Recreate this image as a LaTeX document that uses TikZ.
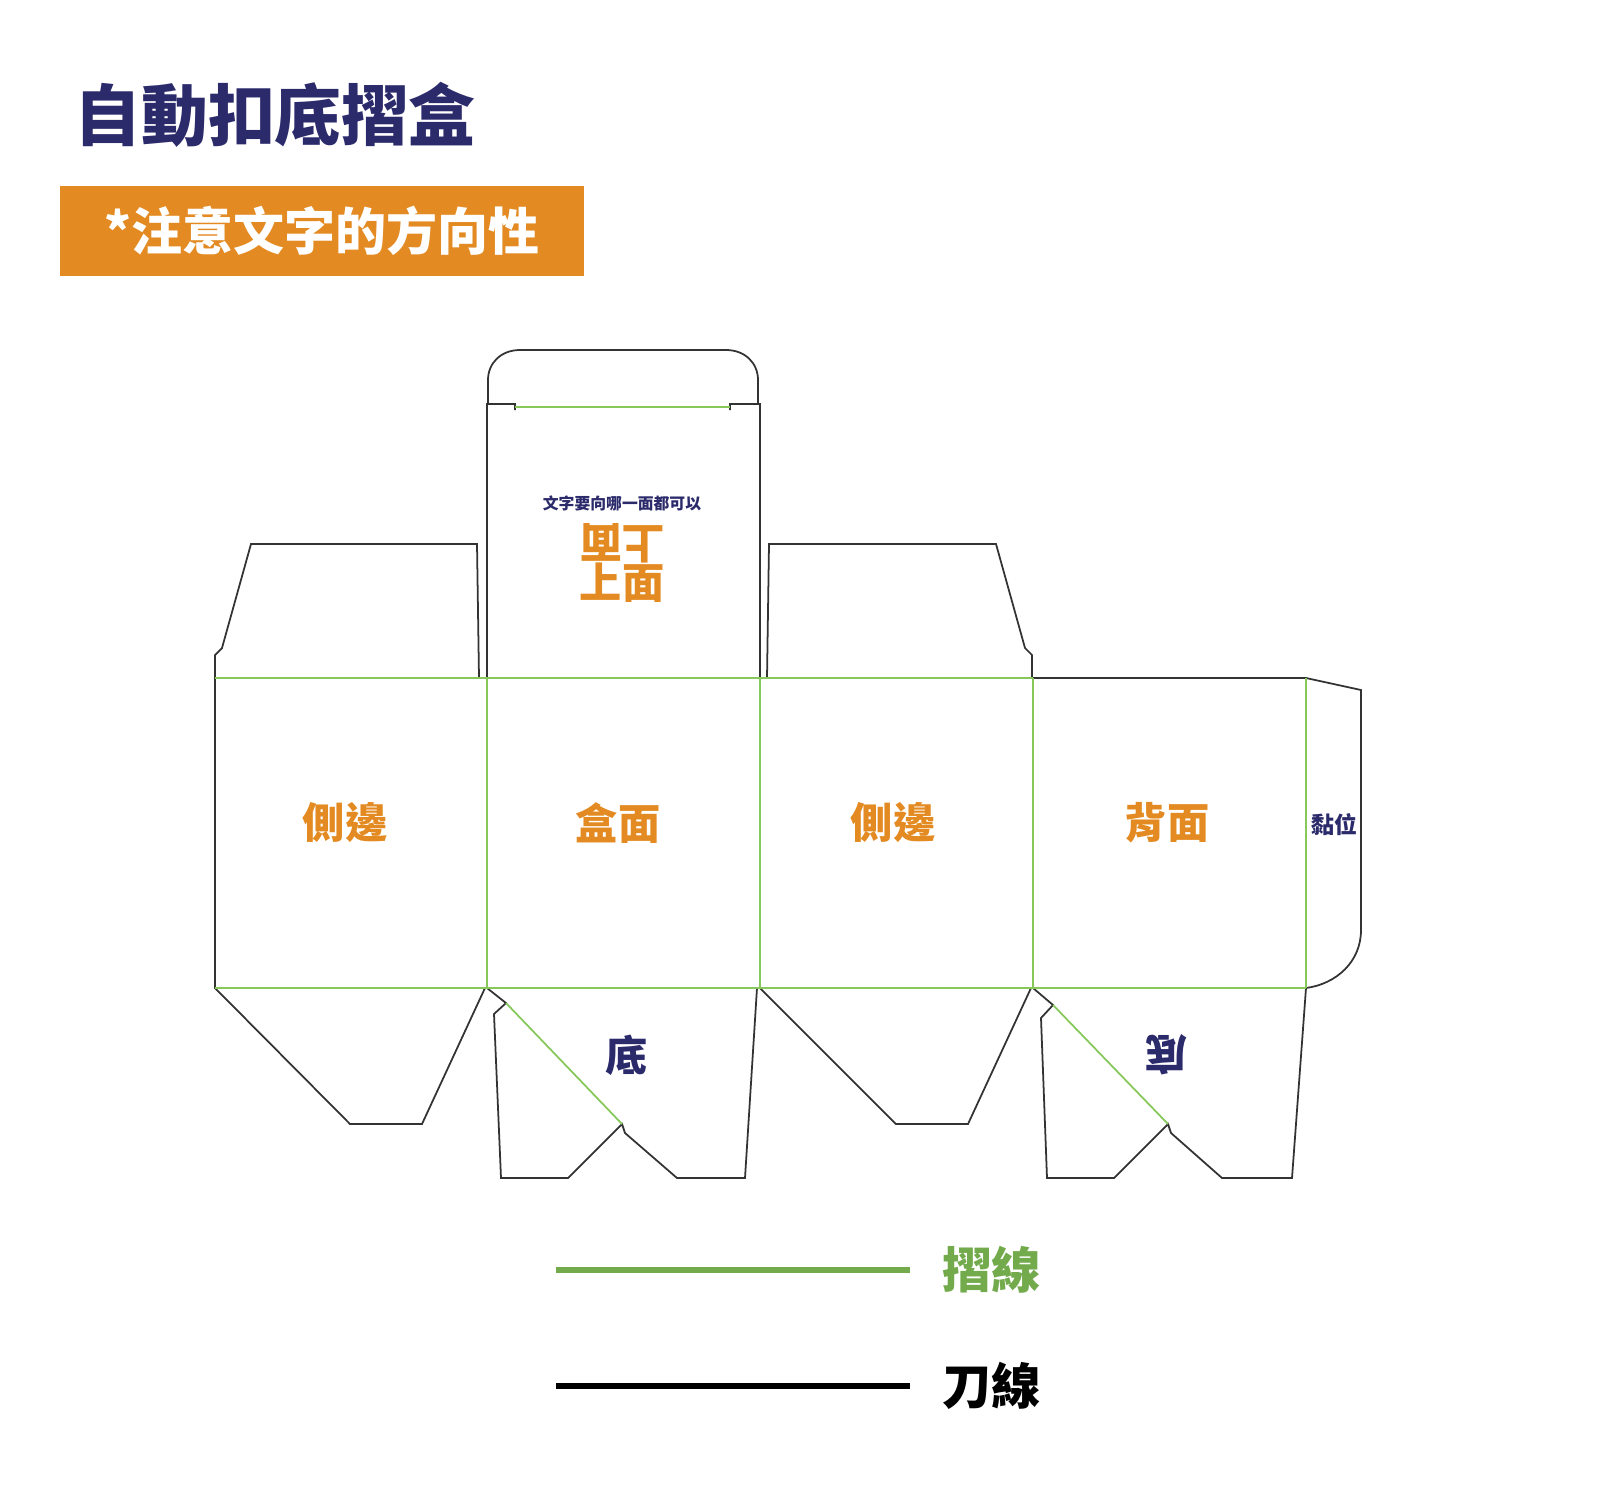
\documentclass[tikz,border=0pt]{standalone}
\usepackage{fontspec}
\newfontfamily\cjk{Noto Sans CJK TC}
\usetikzlibrary{positioning}
\definecolor{navy}{HTML}{2B2A6B}
\definecolor{boxorange}{HTML}{E38B22}
\definecolor{foldgreen}{HTML}{86C85A}
\tikzset{
  cut/.style={draw=black!80, line width=0.5pt, line join=miter},
  fold/.style={draw=foldgreen, line width=0.5pt},
  panel/.style={text=boxorange, font=\cjk\bfseries\fontsize{12}{12}\selectfont},
  navytext/.style={text=navy, font=\cjk\bfseries},
}
\begin{document}
\begin{tikzpicture}[x=0.01cm,y=-0.01cm]
        \useasboundingbox (0,0) rectangle (1600,1493);

        % title
        \node[navytext, font=\cjk\bfseries\fontsize{19}{19}\selectfont, anchor=west] (title) at (62,115) {自動扣底摺盒};
        \node[fill=boxorange, minimum width=5.24cm, minimum height=0.9cm, inner sep=0pt] (note) at (322,231) {};
        \node[text=white, font=\cjk\bfseries\fontsize{14.5}{14.5}\selectfont] (notetext) at (note) {*注意文字的方向性};

        % cut lines
        \draw[cut] (215,678) -- (215,655) -- (222,648) -- (251,544) -- (477,544) -- (479,678) -- (483,678)
                -- (487,678) -- (487,404) -- (515,404) -- (515,410);
        \draw[cut] (730,410) -- (730,404) -- (760,404) -- (760,678) -- (767,678) -- (769,544) -- (996,544)
                -- (1025,648) -- (1032,655) -- (1032,678) -- (1306,678) -- (1361,690) -- (1361,930)
                .. controls (1361,962) and (1336,984) .. (1306,988);
        \draw[cut] (488,404) -- (488,380) .. controls (488,363) and (501,350) .. (520,350) -- (726,350)
                .. controls (745,350) and (758,363) .. (758,380) -- (758,404);
        \draw[cut] (215,678) -- (215,988) -- (350,1124) -- (422,1124) -- (485,988);
        \draw[cut] (487,988) -- (506,1003) -- (494,1014) -- (501,1178) -- (568,1178) -- (622,1124)
                -- (625,1133) -- (677,1178) -- (745,1178) -- (757,988);
        \draw[cut] (760,988) -- (896,1124) -- (968,1124) -- (1031,988);
        \draw[cut] (1033,988) -- (1053,1005) -- (1041,1018) -- (1047,1178) -- (1114,1178) -- (1168,1124)
                -- (1171,1133) -- (1222,1178) -- (1292,1178) -- (1306,988);

        % fold lines
        \draw[fold] (515,407) -- (730,407);
        \draw[fold] (215,678) -- (1033,678);
        \draw[fold] (215,988) -- (1306,988);
        \foreach \x in {487,760,1033,1306}
            \draw[fold] (\x,678) -- (\x,988);
        \draw[fold] (506,1003) -- (622,1124);
        \draw[fold] (1053,1005) -- (1168,1124);

        % panel labels
        \node[panel] (side1) at (345,823) {側邊};
        \node[panel] (front) at (618,823) {盒面};
        \node[panel] (side2) at (893,823) {側邊};
        \node[panel] (back) at (1167,823) {背面};
        \node[navytext, font=\cjk\bfseries\fontsize{6.5}{6.5}\selectfont] (glue) at (1334,825) {黏位};
        \node[navytext, font=\cjk\bfseries\fontsize{4.5}{4.5}\selectfont] (hint) at (622,503) {文字要向哪一面都可以};
        \node[panel, rotate=180] (topflip) at (622,543) {上面};
        \node[panel] (top) at (622,583) {上面};
        \node[navytext, font=\cjk\bfseries\fontsize{12}{12}\selectfont] (base1) at (627,1055) {底};
        \node[navytext, font=\cjk\bfseries\fontsize{12}{12}\selectfont, rotate=180] (base2) at (1166,1055) {底};

        % legend
        \coordinate (fold a) at (556,1270);
        \coordinate (fold b) at (910,1270);
        \coordinate (cut a) at (556,1386);
        \coordinate (cut b) at (910,1386);
        \draw[foldgreen!85!black, line width=1.5pt] (fold a) -- (fold b);
        \draw[black, line width=1.5pt] (cut a) -- (cut b);
        \node[text=foldgreen!85!black, font=\cjk\bfseries\fontsize{14}{14}\selectfont, anchor=west] (foldlbl) at (930,1270) {摺線};
        \node[font=\cjk\bfseries\fontsize{14}{14}\selectfont, anchor=west] (cutlbl) at (930,1386) {刀線};
\end{tikzpicture}
\end{document}
